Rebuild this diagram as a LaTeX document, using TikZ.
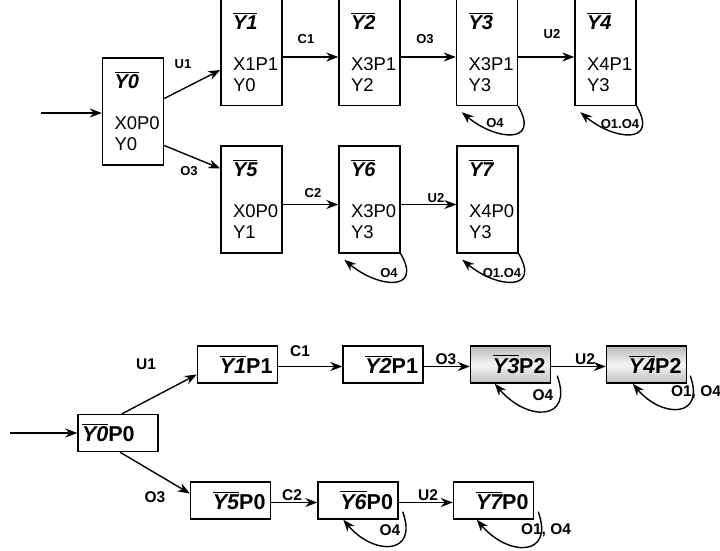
\documentclass[tikz,border=0pt]{standalone}
\usepackage{fontspec}
\setmainfont{Liberation Sans}
\usetikzlibrary{arrows.meta}
\newcommand{\yb}[1]{\setbox0=\hbox{\bfseries\itshape #1}\leavevmode
  \rlap{\raisebox{\dimexpr\ht0+1.8pt\relax}{\rule{\wd0}{1pt}}}\box0}

\tikzset{
  statebox/.style={draw, line width=1.4pt, text width=37pt, inner xsep=12pt, inner ysep=0pt,
    minimum height=107pt, align=left, font=\fontsize{18.5}{21}\selectfont},
  markbox/.style={draw, line width=1.4pt, text width=70pt, inner xsep=5pt, inner ysep=0pt,
    minimum height=37pt, align=right, font=\fontsize{21.5}{25}\selectfont\bfseries},
  grayfill/.style={top color=gray!55, bottom color=gray!50, middle color=gray!8},
  lbl/.style={font=\fontsize{13}{14}\selectfont\bfseries},
  biglbl/.style={font=\fontsize{15.5}{17}\selectfont\bfseries},
  arr/.style={-{Stealth[length=12pt,width=9pt]}, line width=1.4pt},
}

\begin{document}
\begin{tikzpicture}[x=1pt, y=1pt]
\useasboundingbox (0,0) rectangle (720,550);

% upper graph
\foreach \n/\x/\y/\t/\a/\b in {0/133/438.5/Y0/X0P0/Y0, 1/251.5/498/Y1/X1P1/Y0,
    2/369.5/498/Y2/X3P1/Y2, 3/487/498/Y3/X3P1/Y3, 4/605.5/498/Y4/X4P1/Y3,
    5/251.5/350.5/Y5/X0P0/Y1, 6/369.5/350.5/Y6/X3P0/Y3, 7/487.5/350.5/Y7/X4P0/Y3} {
  \node[statebox] (t\n) at (\x,\y) {{\fontsize{20}{21}\selectfont\yb{\t}}\\[20pt]\a\\\b};
}
\coordinate (tin) at (41,437);
\draw[arr] (tin) -- (t0.west |- tin);
\draw[arr] ([yshift=13]t0.east) -- ([yshift=-18]t1.west);
\draw[arr] ([yshift=-34]t0.east) -- ([yshift=31]t5.west);
\foreach \a/\b in {1/2,2/3,3/4,5/6,6/7} {
  \draw[arr] ([yshift=-5]t\a.east) -- ([yshift=-5]t\b.west);
}
\foreach \n in {3,4,6,7} {
  \draw[arr] (t\n.south east) to[out=-60,in=-40,looseness=2] ([xshift=6,yshift=-6]t\n.south west);
}
\node[lbl] (tu1) at (183,486) {U1};
\node[lbl] (to3) at (189,379) {O3};
\node[lbl] (tc1) at (306,511) {C1};
\node[lbl] (to3b) at (425,511) {O3};
\node[lbl] (tu2) at (552,516) {U2};
\node[lbl] (tc2) at (313,357) {C2};
\node[lbl] (tu2b) at (436,352) {U2};
\node[lbl] (to4) at (495,427) {O4};
\node[lbl] (to14) at (620,426) {O1.O4};
\node[lbl] (to4b) at (389,277) {O4};
\node[lbl] (to14b) at (502,277) {O1.O4};

% lower graph
\foreach \n/\x/\y/\t/\p in {1/237.5/185.5/Y1/P1, 2/383/185.5/Y2/P1,
    5/230.5/49.5/Y5/P0, 6/358/49.5/Y6/P0, 7/493.5/49.5/Y7/P0} {
  \node[markbox] (b\n) at (\x,\y) {\yb{\t}\p};
}
\node[markbox, align=left, inner xsep=4pt, text width=72pt] (b0) at (118,117) {\yb{Y0}P0};
\node[markbox, grayfill] (b3) at (510.5,185.5) {\yb{Y3}P2};
\node[markbox, grayfill] (b4) at (646.5,185.5) {\yb{Y4}P2};
\coordinate (bin) at (10,117);
\draw[arr] (bin) -- (b0.west);
\draw[arr] ([xshift=4]b0.north) -- ([yshift=-10]b1.west);
\draw[arr] ([xshift=2]b0.south) -- ([yshift=7]b5.west);
\foreach \a/\b in {1/2,2/3,3/4,5/6,6/7} {
  \draw[arr] ([yshift=-2]b\a.east) -- ([yshift=-2]b\b.west);
}
\foreach \n/\s/\e in {3/6/25, 4/3/27, 6/4/26, 7/4/24} {
  \draw[arr] ([xshift=\s,yshift=8]b\n.south east) to[out=-70,in=-50,looseness=2] ([xshift=\e]b\n.south west);
}
\node[biglbl] (bu1) at (146,186) {U1};
\node[biglbl] (bo3) at (155,53) {O3};
\node[biglbl] (bc1) at (300,199) {C1};
\node[biglbl] (bo3b) at (446,191) {O3};
\node[biglbl] (bu2) at (585,191) {U2};
\node[biglbl] (bc2) at (292,55) {C2};
\node[biglbl] (bu2b) at (428,55) {U2};
\node[biglbl] (bo4) at (543,155) {O4};
\node[biglbl] (bo14) at (696,158) {O1, O4};
\node[biglbl] (bo4b) at (390,20) {O4};
\node[biglbl] (bo14b) at (546,20) {O1, O4};
\end{tikzpicture}
\end{document}
